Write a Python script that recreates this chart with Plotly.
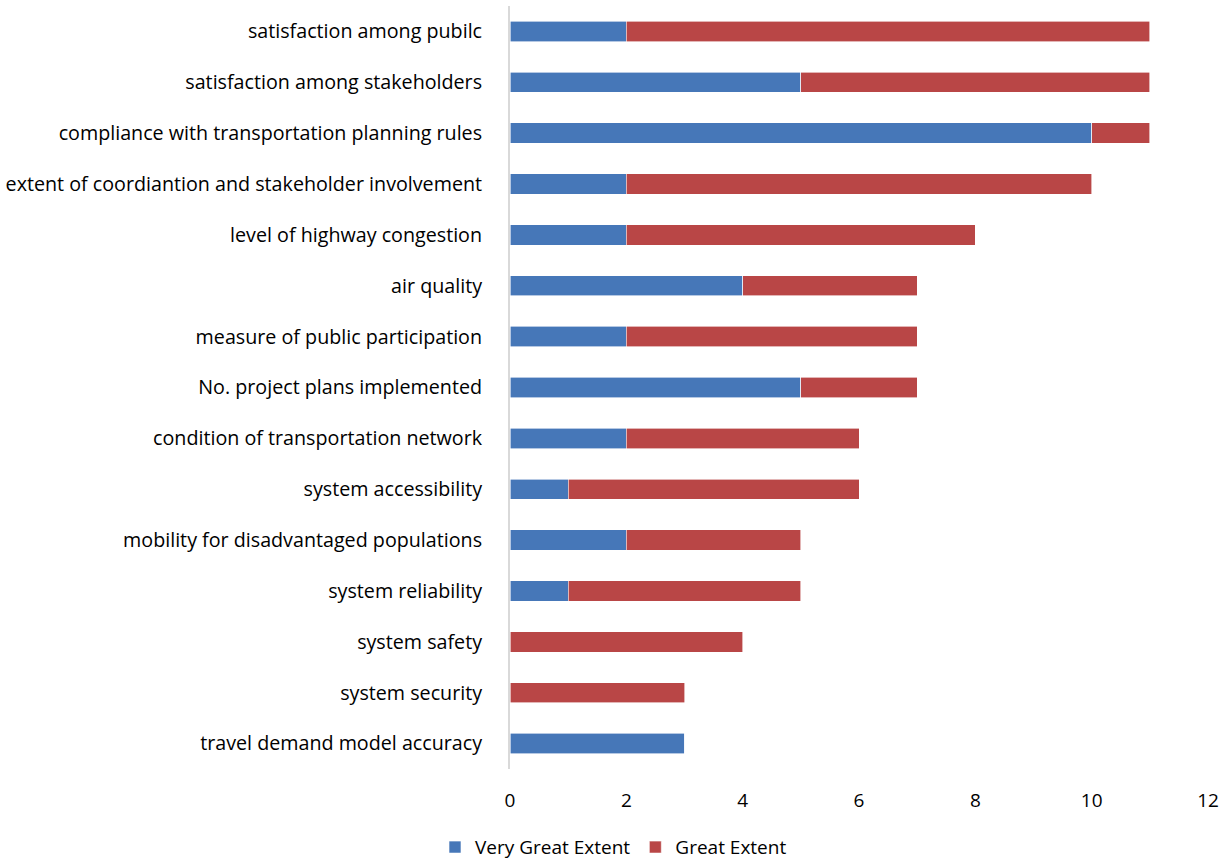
import plotly.graph_objects as go

categories = [
    "satisfaction among pubilc",
    "satisfaction among stakeholders",
    "compliance with transportation planning rules",
    "extent of coordiantion and stakeholder involvement",
    "level of highway congestion",
    "air quality",
    "measure of public participation",
    "No. project plans implemented",
    "condition of transportation network",
    "system accessibility",
    "mobility for disadvantaged populations",
    "system reliability",
    "system safety",
    "system security",
    "travel demand model accuracy",
]
very_great = [2, 5, 10, 2, 2, 4, 2, 5, 2, 1, 2, 1, 0, 0, 3]
great = [9, 6, 1, 8, 6, 3, 5, 2, 4, 5, 3, 4, 4, 3, 0]
x_ticks = [0, 2, 4, 6, 8, 10, 12]

FONT = "Open Sans, sans-serif"

fig = go.Figure()
fig.add_trace(go.Bar(
    y=categories, x=very_great, name="Very Great Extent", orientation="h",
    marker=dict(color="#4677B8", line=dict(color="#FFFFFF", width=0.6)),
))
fig.add_trace(go.Bar(
    y=categories, x=great, name="Great Extent", orientation="h",
    marker=dict(color="#B94646", line=dict(color="#FFFFFF", width=0.6)),
))

fig.update_layout(
    barmode="stack",
    bargap=0.6,
    width=1227, height=861,
    margin=dict(l=510, r=19, t=6, b=92, autoexpand=False),
    paper_bgcolor="white", plot_bgcolor="white",
    font=dict(family=FONT, size=20, color="#000000"),
    legend=dict(
        orientation="h", xref="container", yref="container",
        x=0.5, xanchor="center", y=0.016, yanchor="middle",
        font=dict(size=19), itemwidth=30, traceorder="normal",
    ),
    xaxis=dict(
        range=[0, 12], tickvals=x_ticks, showgrid=False, zeroline=False,
        showline=False, ticks="", tickfont=dict(size=19), ticklabelstandoff=18,
    ),
    yaxis=dict(
        categoryorder="array", categoryarray=categories[::-1],
        autorange=False, range=[-0.5, len(categories) - 0.5],
        showgrid=False, zeroline=False, showline=True, linecolor="#D9D9D9",
        linewidth=2, ticks="", tickfont=dict(size=19.7), ticklabelstandoff=22,
    ),
)

fig.write_html("out.html")
